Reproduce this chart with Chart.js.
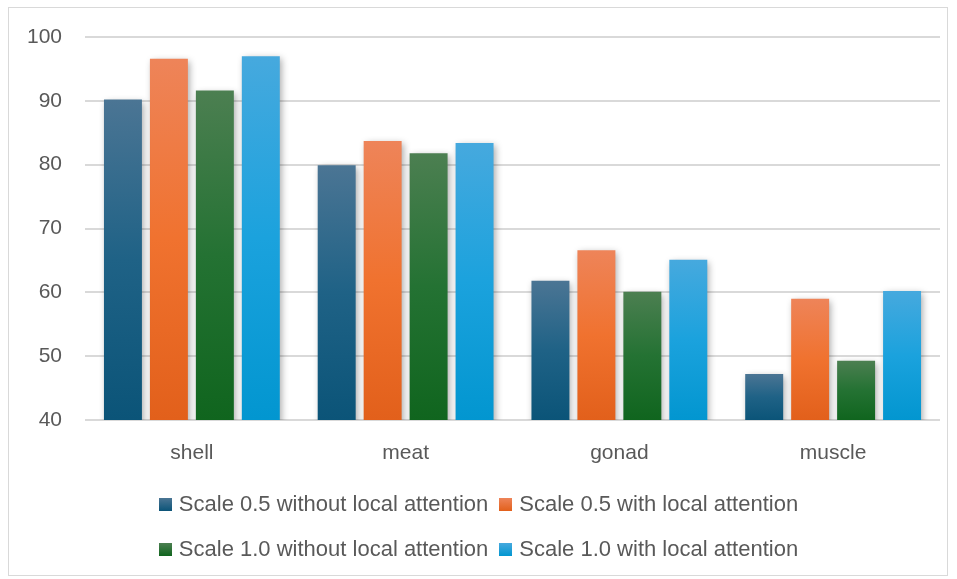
<!DOCTYPE html>
<html><head><meta charset="utf-8">
<script src="https://cdn.jsdelivr.net/npm/chart.js@4.4.1/dist/chart.umd.min.js"></script>
<style>
html,body{margin:0;padding:0;background:#fff;}
#wrap{position:relative;width:957px;height:579px;}
#frame{position:absolute;left:8px;top:7px;width:940px;height:569px;border:1.5px solid #d9d9d9;box-sizing:border-box;}
canvas{position:absolute;left:0;top:0;}
.legrow{position:absolute;left:0;width:957px;display:flex;justify-content:center;gap:11px;font-family:"Liberation Sans",Arial,sans-serif;font-size:22px;color:#595959;}
.item{display:flex;align-items:center;}
.box{width:13px;height:13px;margin-right:7px;}
</style></head>
<body>
<div id="wrap">
<div id="frame"></div>
<canvas id="c" width="957" height="579"></canvas>
<div class="legrow" id="row1" style="top:491px"></div>
<div class="legrow" id="row2" style="top:536px"></div>
</div>
<script>
const categories = ["shell", "meat", "gonad", "muscle"];
const seriesNames = ["Scale 0.5 without local attention", "Scale 0.5 with local attention", "Scale 1.0 without local attention", "Scale 1.0 with local attention"];
const s05NoAttn = [90.2, 79.9, 61.8, 47.2];
const s05Attn = [96.6, 83.7, 66.6, 59.0];
const s10NoAttn = [91.6, 81.8, 60.1, 49.3];
const s10Attn = [97.0, 83.4, 65.1, 60.2];
const yTicks = [40, 50, 60, 70, 80, 90, 100];

const palettes = [
  ["#4b7594", "#1f6286", "#0b5478"],
  ["#ee8459", "#f0722f", "#e2601b"],
  ["#4c7f51", "#247233", "#10651e"],
  ["#46a9de", "#1ba2dd", "#0296d0"]
];

function grad(i) {
  return function(ctx) {
    const chart = ctx.chart;
    const p = palettes[i];
    if (!chart.chartArea || ctx.type !== 'data') return p[1];
    const y = chart.scales.y;
    const top = y.getPixelForValue(ctx.raw);
    const bottom = y.getPixelForValue(y.min);
    const g = chart.ctx.createLinearGradient(0, top, 0, bottom);
    g.addColorStop(0, p[0]);
    g.addColorStop(0.5, p[1]);
    g.addColorStop(1, p[2]);
    return g;
  };
}

const values = [s05NoAttn, s05Attn, s10NoAttn, s10Attn];
const datasets = values.map((v, i) => ({
  label: seriesNames[i],
  data: v,
  backgroundColor: grad(i),
  borderWidth: 0,
  barPercentage: 0.826,
  categoryPercentage: 0.86
}));

const shadow = {
  id: 'shadow',
  beforeDatasetsDraw(chart) {
    const c = chart.ctx; c.save();
    c.shadowColor = 'rgba(0,0,0,0.35)';
    c.shadowBlur = 7; c.shadowOffsetX = 2; c.shadowOffsetY = 2;
  },
  afterDatasetsDraw(chart) { chart.ctx.restore(); }
};

const font = {family: '"Liberation Sans", Arial, sans-serif', size: 21};
new Chart(document.getElementById('c'), {
  type: 'bar',
  data: {labels: categories, datasets},
  options: {
    responsive: false,
    animation: false,
    layout: {padding: {left: 20, right: 17, top: 37, bottom: 0}},
    plugins: {legend: {display: false}, tooltip: {enabled: false}},
    scales: {
      y: {
        min: 40, max: 100,
        afterFit(s) { s.width = 65; },
        afterBuildTicks(s) { s.ticks = yTicks.map(v => ({value: v})); },
        ticks: {color: '#595959', font, padding: 23},
        grid: {color: '#d9d9d9', lineWidth: 2, drawTicks: false},
        border: {display: false}
      },
      x: {
        afterFit(s) { s.height = 159; },
        ticks: {color: '#595959', font, padding: 21},
        grid: {display: false, drawTicks: false},
        border: {display: false}
      }
    }
  },
  plugins: [shadow]
});

function legendItem(i) {
  const p = palettes[i];
  return '<div class="item"><div class="box" style="background:linear-gradient(' + p[0] + ',' + p[2] + ')"></div><span>' + seriesNames[i] + '</span></div>';
}
document.getElementById('row1').innerHTML = legendItem(0) + legendItem(1);
document.getElementById('row2').innerHTML = legendItem(2) + legendItem(3);
</script>
</body></html>
